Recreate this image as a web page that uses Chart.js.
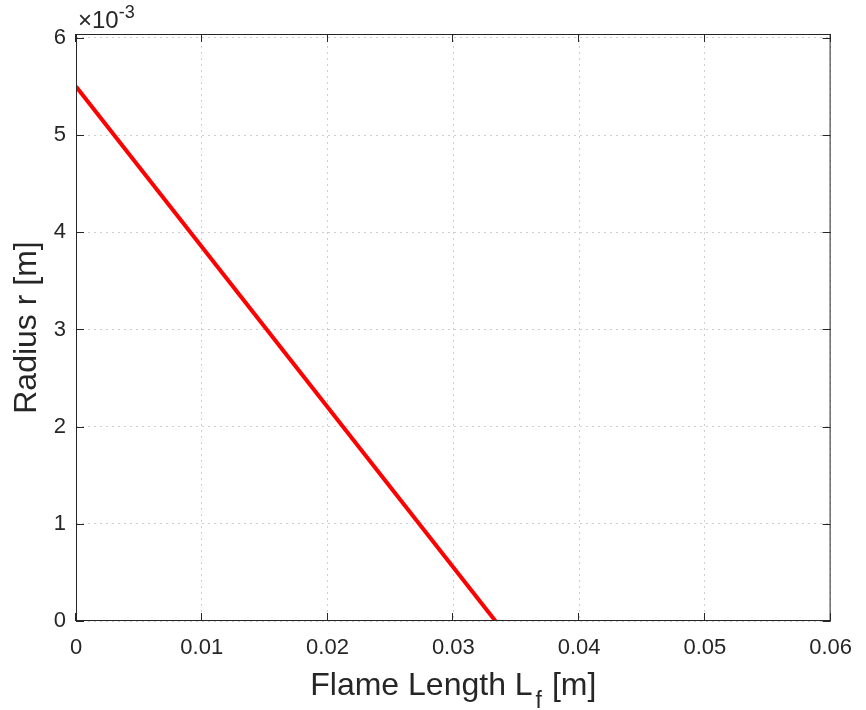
<!DOCTYPE html>
<html>
<head>
<meta charset="utf-8">
<script src="https://cdn.jsdelivr.net/npm/chart.js@4.4.1/dist/chart.umd.min.js"></script>
<style>
  html, body { margin: 0; padding: 0; background: #fff; }
  #wrap { width: 866px; height: 710px; }
</style>
</head>
<body>
<div id="wrap"><canvas id="flameChart" width="866" height="710"></canvas></div>
<script>
// flame length vs radius (straight line from r0 down to zero)
const flameLength = [0, 0.03335];
const radius = [0.0055, 0];
const xTicks = [0, 0.01, 0.02, 0.03, 0.04, 0.05, 0.06];
const yTicks = [0, 0.001, 0.002, 0.003, 0.004, 0.005, 0.006];
const xMax = 0.06;
const yMax = 0.00604;

const FONT = "'Liberation Sans', Arial, Helvetica, sans-serif";
const AXIS = '#262626';

const points = flameLength.map((x, i) => ({ x: x, y: radius[i] }));

// box, inward ticks, axis titles and the x10^-3 exponent
const matlabAxes = {
  id: 'matlabAxes',
  afterDraw(chart) {
    const ctx = chart.ctx;
    const a = chart.chartArea;
    const xs = chart.scales.x, ys = chart.scales.y;
    const tl = 8;
    ctx.save();
    ctx.strokeStyle = AXIS;
    ctx.lineWidth = 1;
    ctx.strokeRect(a.left + 0.5, a.top + 0.5, a.right - a.left - 1, a.bottom - a.top - 1);
    ctx.beginPath();
    xTicks.forEach(v => {
      const px = Math.round(xs.getPixelForValue(v)) - 0.5;
      ctx.moveTo(px, a.bottom); ctx.lineTo(px, a.bottom - tl);
      ctx.moveTo(px, a.top); ctx.lineTo(px, a.top + tl);
    });
    yTicks.forEach(v => {
      const py = Math.round(ys.getPixelForValue(v)) + 0.5;
      ctx.moveTo(a.left, py); ctx.lineTo(a.left + tl, py);
      ctx.moveTo(a.right, py); ctx.lineTo(a.right - tl, py);
    });
    ctx.stroke();

    ctx.fillStyle = AXIS;
    // x title with subscript
    const cx = (a.left + a.right) / 2;
    const ty = 695;
    const big = '32px ' + FONT, sub = '23px ' + FONT;
    ctx.textBaseline = 'alphabetic';
    ctx.font = big;
    const p1 = 'Flame Length L', p3 = ' [m]';
    const w1 = ctx.measureText(p1).width, w3 = ctx.measureText(p3).width;
    ctx.font = sub;
    const w2 = ctx.measureText('f').width + 4;
    const sx = cx - (w1 + w2 + w3) / 2;
    ctx.textAlign = 'left';
    ctx.font = big;
    ctx.fillText(p1, sx, ty);
    ctx.font = sub;
    ctx.fillText('f', sx + w1 + 3, ty + 13);
    ctx.font = big;
    ctx.fillText(p3, sx + w1 + w2, ty);

    // y title
    ctx.save();
    ctx.translate(36, (a.top + a.bottom) / 2);
    ctx.rotate(-Math.PI / 2);
    ctx.textAlign = 'center';
    ctx.fillText('Radius r [m]', 0, 0);
    ctx.restore();

    // exponent
    ctx.textAlign = 'left';
    ctx.font = '24px ' + FONT;
    ctx.fillText('\u00d710', 78, 28);
    const we = ctx.measureText('\u00d710').width;
    ctx.font = '18px ' + FONT;
    ctx.fillText('-3', 78 + we, 18);
    ctx.restore();
  }
};

new Chart(document.getElementById('flameChart'), {
  type: 'scatter',
  data: {
    datasets: [{
      data: points,
      showLine: true,
      borderColor: '#ff0000',
      backgroundColor: '#ff0000',
      borderWidth: 4,
      pointRadius: 0,
      tension: 0
    }]
  },
  options: {
    responsive: false,
    animation: false,
    layout: { padding: { top: 34, right: 26, left: 0, bottom: 0 } },
    plugins: { legend: { display: false }, tooltip: { enabled: false } },
    scales: {
      x: {
        type: 'linear',
        min: 0, max: xMax,
        afterBuildTicks: s => { s.ticks = xTicks.map(v => ({ value: v })); },
        afterFit: s => { s.height = 89; },
        grid: { color: '#cfcfcf', drawTicks: false, lineWidth: 1 },
        border: { display: false, dash: [2, 4] },
        ticks: {
          padding: 14,
          color: AXIS,
          font: { family: FONT, size: 22 },
          maxRotation: 0,
          callback: v => v === 0 ? '0' : v.toFixed(2)
        }
      },
      y: {
        type: 'linear',
        min: 0, max: yMax,
        afterBuildTicks: s => { s.ticks = yTicks.map(v => ({ value: v })); },
        afterFit: s => { s.width = 76; },
        grid: { color: '#cfcfcf', drawTicks: false, lineWidth: 1 },
        border: { display: false, dash: [2, 4] },
        ticks: {
          padding: 10,
          color: AXIS,
          font: { family: FONT, size: 22 },
          callback: v => String(Math.round(v * 1000))
        }
      }
    }
  },
  plugins: [matlabAxes]
});
</script>
</body>
</html>
